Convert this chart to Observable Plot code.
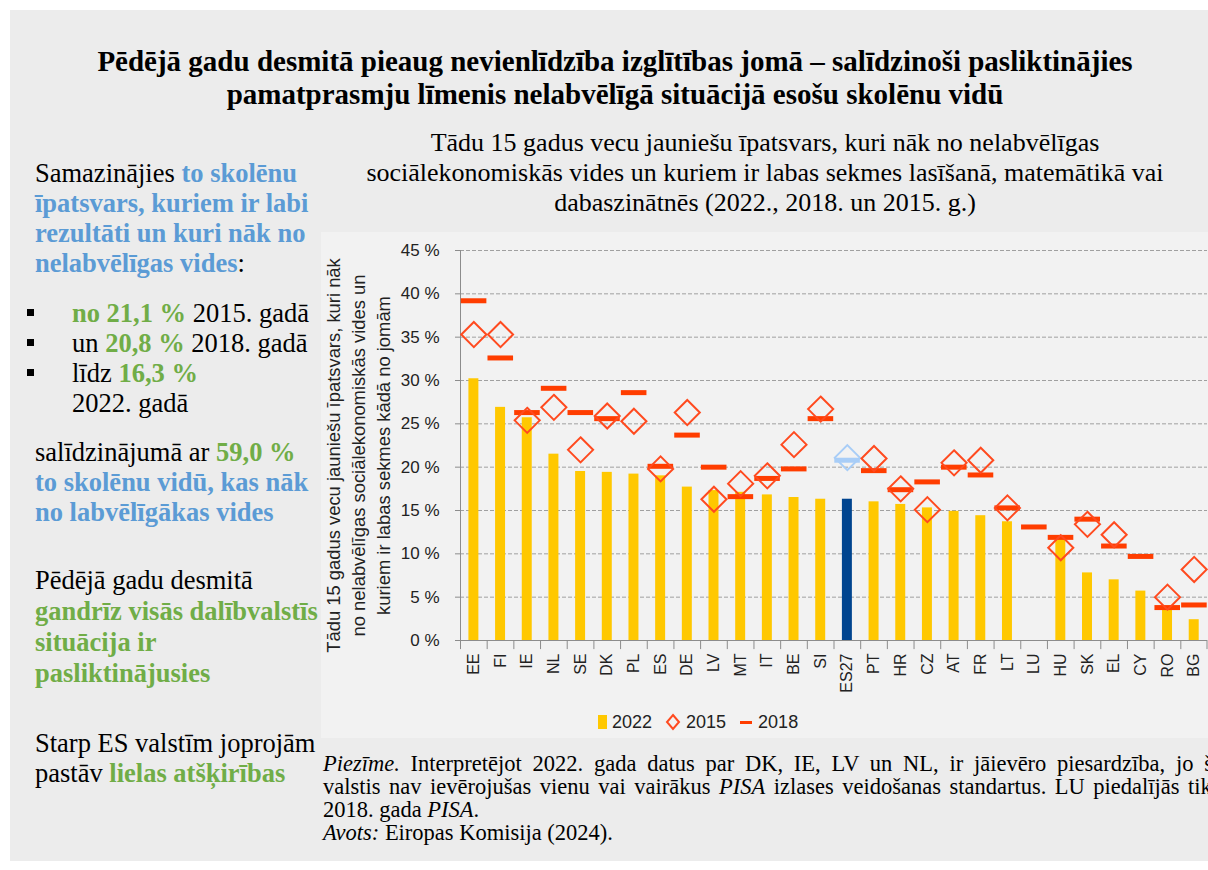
<!DOCTYPE html>
<html><head><meta charset="utf-8">
<script src="https://cdn.jsdelivr.net/npm/d3@7"></script>
<script src="https://cdn.jsdelivr.net/npm/@observablehq/plot@0.6"></script>
<style>
body{margin:0;width:1208px;height:870px;overflow:hidden;background:#fff;position:relative;font-family:"Liberation Serif","Times New Roman",serif;color:#000;}
.abs{position:absolute;white-space:nowrap;}
#panel{position:absolute;left:10px;top:10px;width:1198px;height:851px;background:#ececec;}
#chartbg{position:absolute;left:321px;top:232px;width:887px;height:506px;background:#f2f2f2;}
.title{left:10px;width:1210px;text-align:center;font-weight:bold;font-size:29px;line-height:33px;top:45px;}
.sub{left:330px;width:870px;text-align:center;font-size:26px;line-height:30px;top:128px;}
.lt{font-size:26.5px;line-height:30px;left:35px;}
.b{color:#5b9bd5;font-weight:bold;}
.g{color:#70ad47;font-weight:bold;}
.bul{font-size:26.5px;line-height:30px;}
.sq{position:absolute;left:27px;width:7px;height:7px;background:#000;}
#ylab{left:128px;top:418px;width:460px;text-align:center;font-family:"Liberation Sans",Arial,sans-serif;font-size:18.4px;line-height:25px;transform:rotate(-90deg);transform-origin:50% 50%;color:#222;}
#plot{position:absolute;left:321px;top:232px;}
#legend{position:absolute;top:710px;left:596px;font-family:"Liberation Sans",Arial,sans-serif;font-size:18px;line-height:24px;color:#222;display:flex;align-items:center;white-space:nowrap;}
#legend svg{display:block;}
.note{left:323px;width:905px;font-size:22.5px;line-height:23px;text-align:justify;text-align-last:justify;}
.note.l{text-align-last:left;}
</style></head>
<body>
<div id="panel"></div>
<div id="chartbg"></div>
<div class="abs title">Pēdējā gadu desmitā pieaug nevienlīdzība izglītības jomā – salīdzinoši pasliktinājies<br>pamatprasmju līmenis nelabvēlīgā situācijā esošu skolēnu vidū</div>
<div class="abs sub">Tādu 15 gadus vecu jauniešu īpatsvars, kuri nāk no nelabvēlīgas<br>sociālekonomiskās vides un kuriem ir labas sekmes lasīšanā, matemātikā vai<br>dabaszinātnēs (2022., 2018. un 2015. g.)</div>

<div class="abs lt" style="top:158px">Samazinājies <span class="b">to skolēnu</span><br><span class="b">īpatsvars, kuriem ir labi</span><br><span class="b">rezultāti un kuri nāk no</span><br><span class="b">nelabvēlīgas vides</span>:</div>
<div class="sq" style="top:309px"></div>
<div class="sq" style="top:339px"></div>
<div class="sq" style="top:369px"></div>
<div class="abs bul" style="left:72px;top:298px"><span class="g">no 21,1 %</span> 2015. gadā<br>un <span class="g">20,8 %</span> 2018. gadā<br>līdz <span class="g">16,3 %</span><br>2022. gadā</div>
<div class="abs lt" style="top:437px">salīdzinājumā ar <span class="g">59,0 %</span><br><span class="b">to skolēnu vidū, kas nāk</span><br><span class="b">no labvēlīgākas vides</span></div>
<div class="abs lt" style="top:565px;line-height:31px">Pēdējā gadu desmitā<br><span class="g">gandrīz visās dalībvalstīs</span><br><span class="g">situācija ir</span><br><span class="g">pasliktinājusies</span></div>
<div class="abs lt" style="top:728px">Starp ES valstīm joprojām<br>pastāv <span class="g">lielas atšķirības</span></div>

<div id="plot"></div>
<div class="abs" id="ylab">Tādu 15 gadus vecu jauniešu īpatsvars, kuri nāk<br>no nelabvēlīgas sociālekonomiskās vides un<br>kuriem ir labas sekmes kādā no jomām</div>
<div id="legend"></div>

<div class="abs note" style="top:752px"><i>Piezīme.</i> Interpretējot 2022. gada datus par DK, IE, LV un NL, ir jāievēro piesardzība, jo šīs</div>
<div class="abs note" style="top:775px">valstis nav ievērojušas vienu vai vairākus <i>PISA</i> izlases veidošanas standartus. LU piedalījās tikai</div>
<div class="abs note l" style="top:798px">2018. gada <i>PISA</i>.</div>
<div class="abs note l" style="top:821px"><i>Avots:</i> Eiropas Komisija (2024).</div>

<script>
const countries = ["EE","FI","IE","NL","SE","DK","PL","ES","DE","LV","MT","IT","BE","SI","ES27","PT","HR","CZ","AT","FR","LT","LU","HU","SK","EL","CY","RO","BG"];
const v2022 = [30.2,26.9,25.7,21.5,19.5,19.4,19.2,19.0,17.7,17.3,17.1,16.8,16.5,16.3,16.3,16.0,15.7,15.3,14.9,14.4,13.7,null,11.7,7.8,7.0,5.7,3.9,2.4];
const v2015 = [35.3,35.3,25.4,26.9,22.0,25.9,25.3,19.8,26.3,16.3,18.1,19.0,22.6,26.7,21.1,21.0,17.5,15.1,20.5,20.8,15.3,null,10.7,13.4,12.2,null,5.0,8.2];
const v2018 = [39.2,32.6,26.3,29.1,26.3,25.6,28.6,20.1,23.7,20.0,16.6,18.7,19.8,25.6,20.8,19.6,17.4,18.3,20.0,19.1,15.3,13.1,11.9,14.0,10.9,9.7,3.8,4.1];
const yTicks = [0,5,10,15,20,25,30,35,40,45];
const seriesNames = ["2022","2015","2018"];

const C = {bar:"#ffc800", eu:"#00448f", dash:"#ff3d00", dia:"#ff4a1f", euLight:"#a8cdf7", grid:"#a0a0a0", axis:"#8c8c8c"};
const data = countries.map((c,i)=>({country:c, v2022:v2022[i], v2015:v2015[i], v2018:v2018[i]}));

const W = 887, ML = 139, MR = 1;
const step = (W - ML - MR) / countries.length;

const chart = Plot.plot({
  width: W, height: 478,
  marginTop: 18, marginBottom: 70, marginLeft: ML, marginRight: MR,
  style: {background: "transparent", fontFamily: "'Liberation Sans', Arial, sans-serif", color: "#222"},
  x: {domain: countries, padding: 0, round: false, label: null},
  y: {domain: [0, 45], label: null},
  marks: [
    Plot.ruleY(yTicks.filter(d=>d>0), {y: d=>d, stroke: C.grid, strokeDasharray: "4,2", strokeWidth: 1}),
    Plot.barY(data, {x: "country", y: "v2022", fill: d => d.country === "ES27" ? C.eu : C.bar, insetLeft: 8.4, insetRight: 8.3}),
    Plot.ruleY([0], {stroke: C.axis}),
    Plot.frame({anchor: "left", stroke: C.axis}),
    Plot.ruleX(countries, {x: d=>d, dx: -step/2, y1: 0, y2: -1.05, stroke: C.axis}),
    Plot.ruleX([countries[countries.length-1]], {x: d=>d, dx: step/2 - 0.5, y1: 0, y2: -1.05, stroke: C.axis}),
    Plot.tickY(data, {x: "country", y: "v2018", stroke: d => d.country === "ES27" ? C.euLight : C.dash, strokeWidth: 5, insetLeft: 0.8, insetRight: 0.3}),
    Plot.dot(data, {x: "country", y: "v2015", symbol: "diamond2", r: 11.3, stroke: d => d.country === "ES27" ? C.euLight : C.dia, strokeWidth: 2, fill: "none"}),
    Plot.axisY({ticks: yTicks, tickFormat: d => d + " %", tickSize: 5, tickPadding: 16, fontSize: 17, stroke: C.axis, label: null}),
    Plot.axisX({tickSize: 0, tickRotate: -90, tickPadding: 13, fontSize: 16, label: null})
  ]
});
document.getElementById("plot").appendChild(chart);

// legend
const leg = document.getElementById("legend");
const icons = {
  "2022": `<svg width="12" height="18"><rect x="2" y="2" width="9" height="14" fill="${C.bar}"/></svg>`,
  "2015": `<svg width="18" height="18"><path d="M9 2 L15 9 L9 16 L3 9 Z" fill="none" stroke="${C.dia}" stroke-width="2"/></svg>`,
  "2018": `<svg width="16" height="18"><rect x="2" y="8" width="12" height="3" fill="${C.dash}"/></svg>`
};
seriesNames.forEach((s,i) => {
  const span = document.createElement("span");
  span.style.display = "flex"; span.style.alignItems = "center";
  span.style.marginRight = i < seriesNames.length-1 ? "12px" : "0";
  span.innerHTML = icons[s] + `<span style="margin-left:4px">${s}</span>`;
  leg.appendChild(span);
});
</script>
</body></html>
